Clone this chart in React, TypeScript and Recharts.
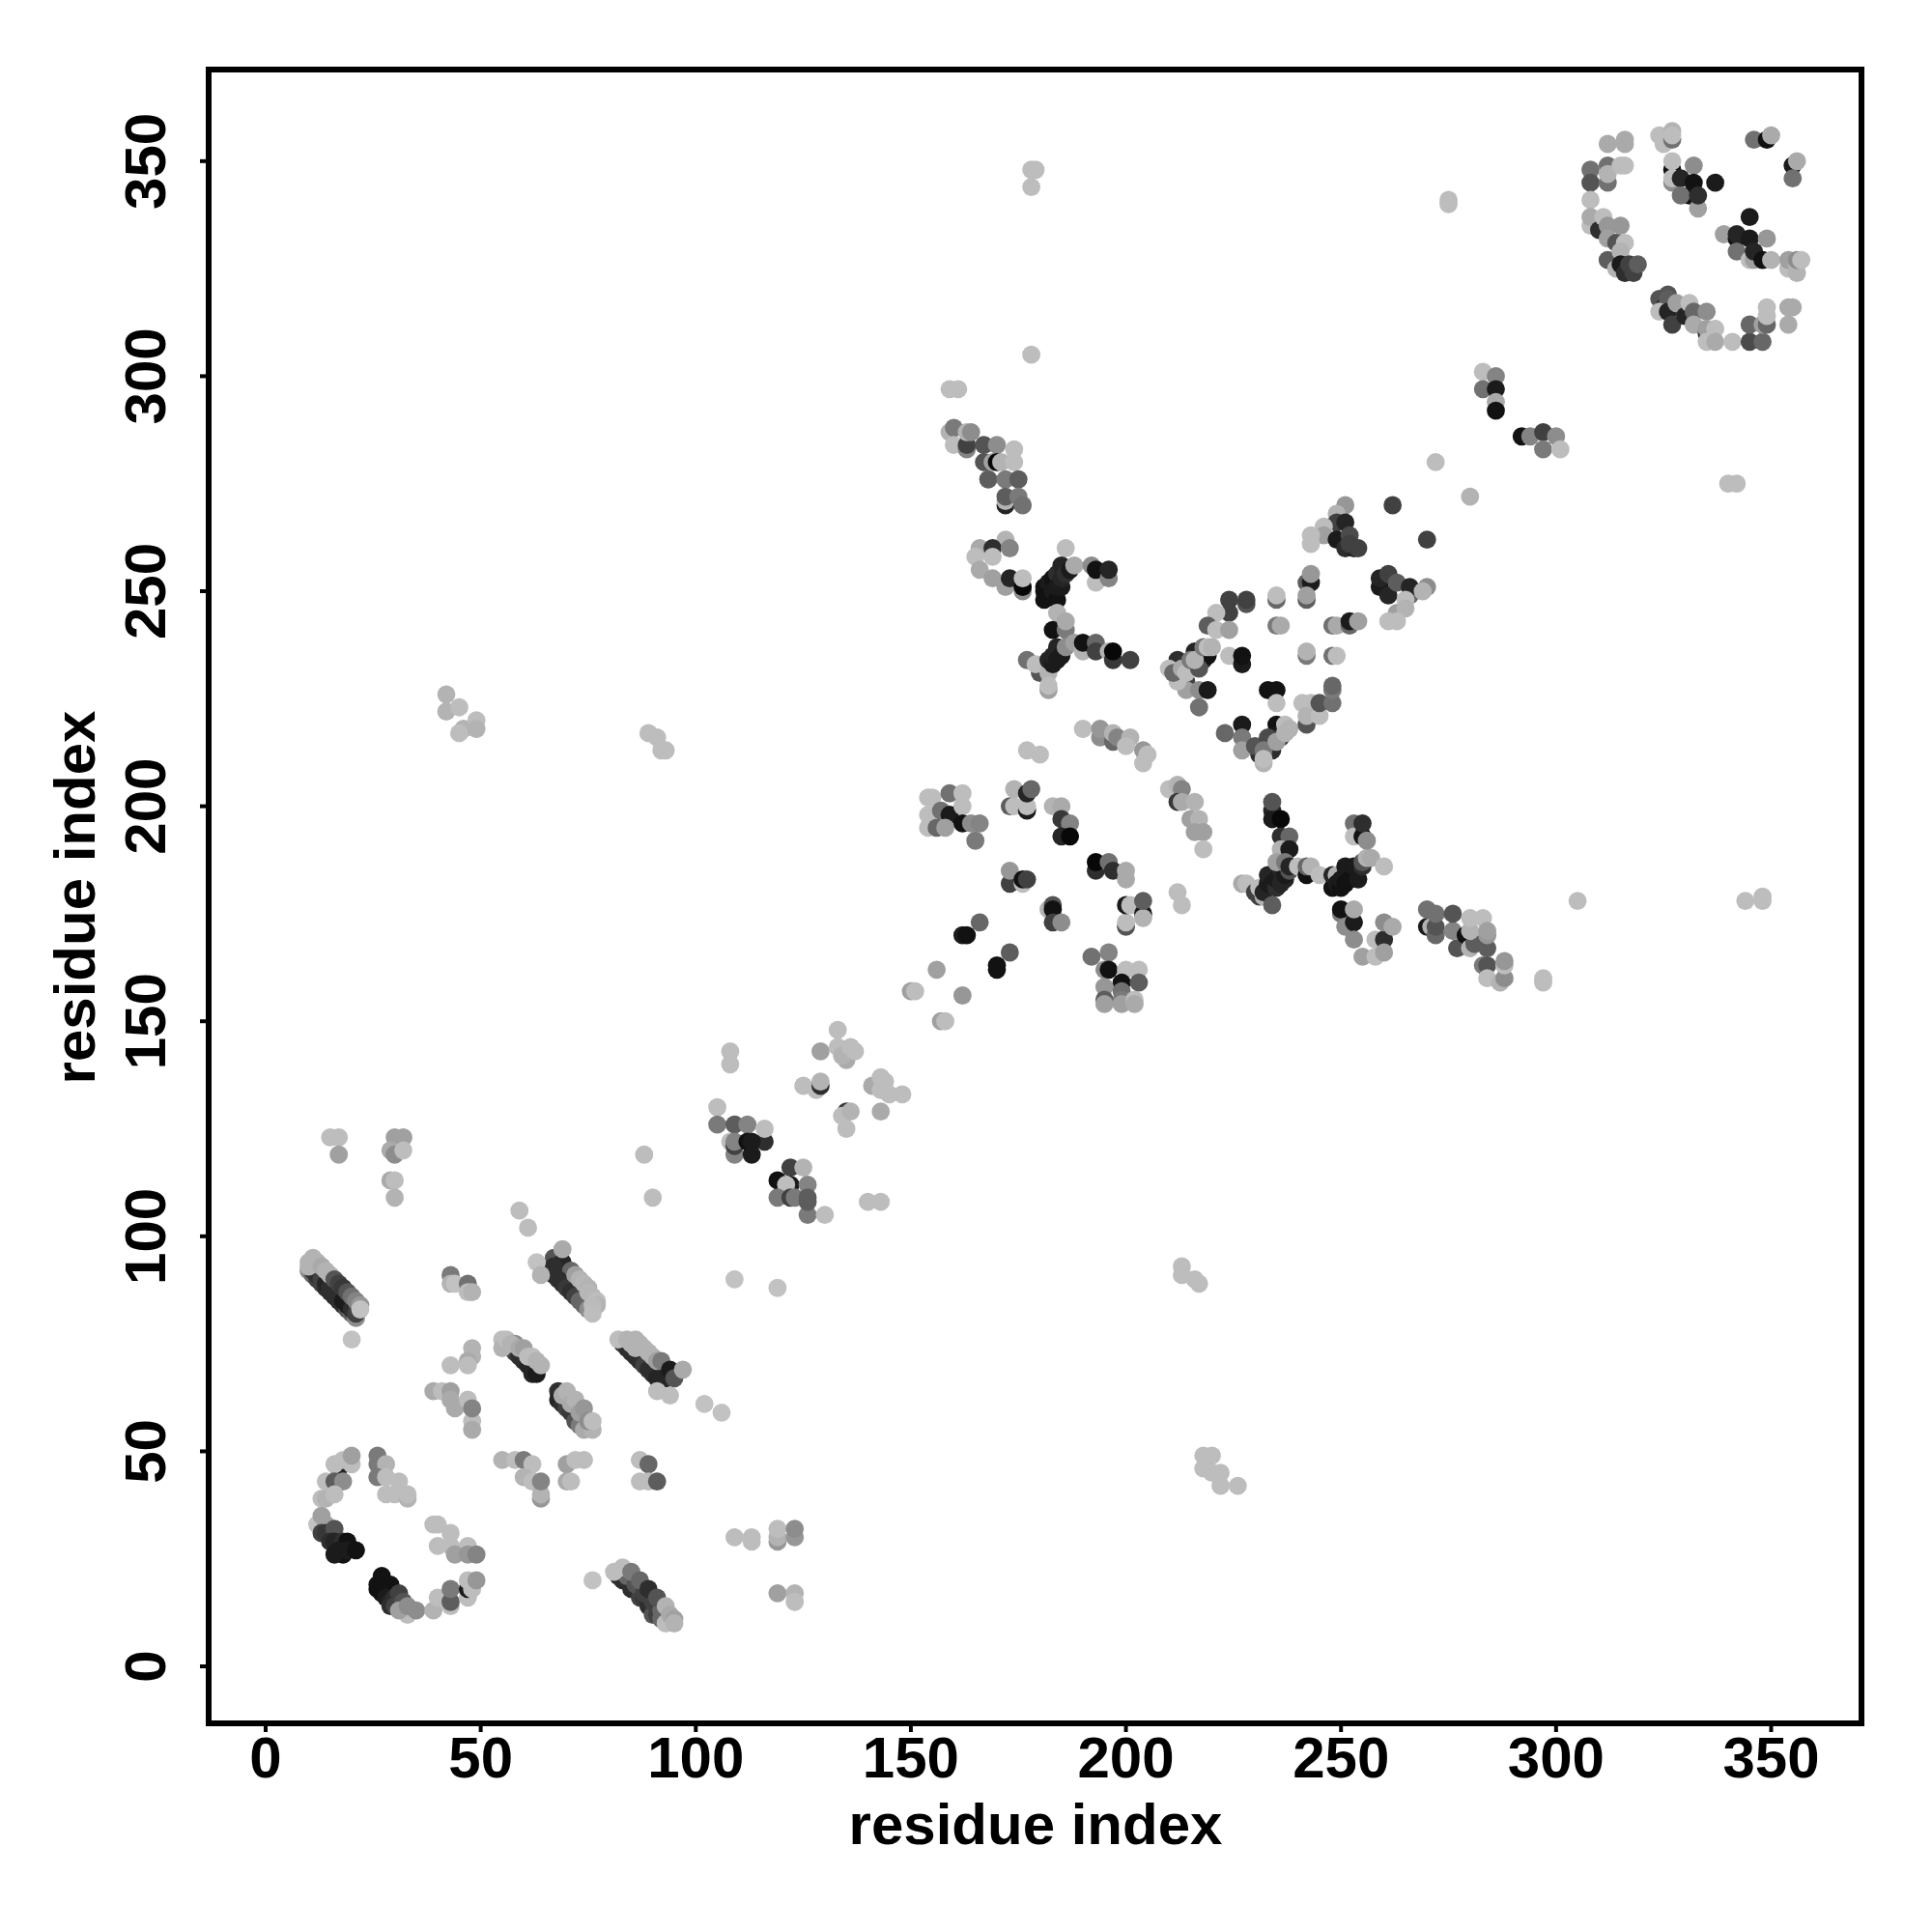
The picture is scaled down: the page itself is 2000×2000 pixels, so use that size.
import React from "react";
import { ScatterChart, Scatter, XAxis, YAxis, ReferenceArea } from "recharts";

// each row: residue index, residue index, contact score (0 weak .. 1 strong)
type Row = [number, number, number];

const TICKS = [0, 50, 100, 150, 200, 250, 300, 350];
const AXIS_TITLE = "residue index";
const FONT = '"Liberation Sans", Arial, sans-serif';

const helixA: Row[] = [
  [10,92,.3],[11,91,.5],[12,90,.7],[13,89,.7],[14,88,.8],[15,87,.8],[16,86,.8],[17,85,.8],[18,84,.8],[19,83,.6],[20,82,.5],[21,81,.3],
  [11,92,.8],[12,91,.8],[13,90,.7],[14,89,.85],[15,88,.8],[16,87,.8],[17,86,.8],[18,85,.9],[19,84,.9],[20,83,.8],[21,82,.7],
  [10,93,.1],[10,94,.1],[11,95,.1],[12,94,.1],[13,93,.15],[14,92,.1],[15,91,.1],[16,90,.6],[17,89,.7],[18,88,.75],[19,87,.6],[20,86,.45],[21,85,.35],[22,84,.25],[22,83,.02],
  [20,76,.02],[43,91,.4],[43,89,.1],[44,89,.02],[47,89,.45],[47,87,.05],[48,87,.1],
];
const helixB: Row[] = [
  [67,95,.6],[69,94,.85],[67,93,.8],[71,92,.5],[67,91,.8],[68,90,.8],[69,89,.8],[70,88,.75],[71,87,.8],[72,86,.7],[73,85,.5],[74,84,.5],[75,83,.3],
  [72,91,.2],[73,90,.1],[74,89,.08],[75,88,.1],[75,87,.08],[76,86,.08],[77,85,.05],[77,84,.1],[76,84,.06],[76,82,.05],
  [69,97,.15],[63,94,.02],[64,91,.1],
  [48,74,.1],[48,72,.1],[47,71,.15],[43,70,.05],[47,70,.05],
  [39,64,.15],[41,64,.05],[43,64,.2],[43,62,.15],[44,60,.15],[47,62,.05],[48,57,.05],[48,55,.15],[48,60,.35],
];
const helixC: Row[] = [
  [57,74,.6],[58,73,.7],[59,72,.8],[60,71,.8],[61,70,.85],[62,69,.85],[62,68,.85],[63,68,.9],
  [55,76,.05],[55,74,.1],[56,76,.05],[58,75,.3],[57,75,.1],[59,74,.15],[60,74,.2],[61,72,.05],[62,72,.05],[63,71,.1],[64,70,.1],
  [68,64,.8],[68,62,.85],[69,61,.8],[70,60,.7],[71,59,.75],[72,57,.6],[73,56,.4],[74,55,.15],[76,55,.1],[69,63,.15],[70,64,.1],[71,61,.15],[72,62,.1],[73,59,.2],[74,60,.25],[75,57,.3],[76,57,.05],
];
const helixD: Row[] = [
  [83,75,.7],[84,74,.8],[85,73,.8],[86,72,.8],[87,71,.8],[88,70,.7],[89,69,.8],[90,68,.8],[91,67,.85],[93,67,.85],
  [82,76,.05],[84,76,.1],[86,76,.1],[85,75,.1],[87,75,.1],[86,74,.1],[88,74,.1],[89,73,.1],[90,72,.1],[91,71,.2],[92,71,.4],[94,69,.9],[95,67,.6],[97,69,.15],
  [91,64,.05],[94,63,.05],[102,61,.02],[106,59,.02],[109,90,.02],[119,88,.02],
];
const loopNorth: Row[] = [
  [17,46,.85],[20,47,.05],[18,48,.05],[16,47,.05],[20,49,.2],[14,43,.05],[16,43,.55],[18,43,.3],[13,39,.05],[14,39,.1],[16,40,.05],
  [26,49,.4],[26,47,.4],[28,47,.1],[26,44,.4],[28,44,.05],[31,43,.05],[28,40,.05],[30,40,.05],[33,39,.1],[33,40,.05],
  [12,33,.02],[13,35,.2],[14,33,.2],[13,31,.7],[14,31,.75],[16,32,.6],[15,29,.8],[16,29,.85],[17,28,.85],[18,29,.8],[19,29,.95],[18,26,.95],[16,26,.9],[17,27,.9],[19,27,.9],[21,27,.95],
];
const loopSouth: Row[] = [
  [26,18,.95],[26,19,.95],[27,17,.95],[27,21,.95],[29,19,.95],[28,16,.9],[29,15,.85],[30,16,.8],[31,17,.7],[29,14,.8],[30,14,.7],[32,15,.6],[33,12,.05],[31,13,.2],[33,14,.3],[35,13,.3],
  [39,13,.1],[40,16,.05],[43,14,.05],[43,15,.55],[43,18,.4],[47,16,.05],[47,18,.9],[47,20,.05],[48,18,.05],[49,20,.25],
  [39,33,.05],[40,33,.05],[43,31,.05],[40,28,.05],[43,28,.05],[47,28,.05],[44,26,.2],[47,26,.25],[49,26,.35],
];
const helixE: Row[] = [
  [82,21,.8],[83,20,.8],[84,20,.8],[85,18,.8],[86,18,.8],[87,16,.7],[88,16,.75],[89,14,.8],[90,14,.8],[90,12,.6],[91,12,.7],[92,11,.5],
  [84,21,.5],[86,19,.6],[88,17,.7],[90,15,.7],[92,13,.5],
  [81,22,.05],[83,23,.05],[85,22,.4],[87,20,.5],[89,18,.8],[91,16,.6],
  [93,10,.05],[93,14,.1],[94,12,.15],[95,11,.2],[95,10,.1],[76,20,.02],
  [109,30,.05],[113,30,.05],[113,29,.05],[119,29,.25],[119,30,.1],[119,32,.05],[123,30,.25],[123,32,.3],[119,17,.2],[123,17,.1],[123,15,.05],
];
const strandPairs: Row[] = [
  [55,48,.1],[58,48,.05],[60,48,.4],[62,47,.05],[60,44,.1],[62,43,.05],[64,39,.25],[64,40,.1],[64,43,.35],
  [70,47,.2],[72,48,.05],[74,48,.05],[70,43,.15],[71,43,.05],[87,48,.05],[89,47,.5],[87,43,.05],[89,43,.05],[91,43,.55],
];
const upperLeft: Row[] = [
  [15,123,.05],[17,123,.05],[17,119,.2],[30,123,.2],[32,123,.2],[29,120,.15],[30,119,.3],[32,120,.05],
  [29,113,.15],[30,113,.05],[30,109,.1],[59,106,.05],[61,102,.05],[88,119,.05],[90,109,.05],
  [42,226,.1],[42,222,.1],[45,223,.05],[46,218,.1],[45,217,.05],[49,220,.05],[49,218,.1],
  [89,217,.05],[91,216,.05],[92,213,.05],[93,213,.05],
];
const midDiagonal: Row[] = [
  [108,143,.05],[108,140,.05],[105,130,.05],[105,126,.4],[109,126,.55],[112,126,.35],[116,122,.8],[116,125,.05],
  [108,122,.05],[109,119,.35],[109,121,.7],[109,122,.35],[112,122,.95],[113,122,.9],[113,119,.9],
  [122,116,.7],[125,116,.1],[119,113,.95],[122,112,.9],[121,112,.05],[126,112,.35],[119,109,.4],[122,109,.7],[123,109,.4],[126,105,.4],[126,108,.55],[126,109,.55],[130,105,.05],
  [140,108,.05],[143,108,.05],[129,143,.2],[133,148,.05],[135,141,.15],[133,144,.05],[134,142,.1],[136,144,.05],[137,143,.05],
  [125,135,.05],[128,134,.05],[129,135,.8],[129,136,.1],[135,129,.75],[134,128,.05],[136,129,.1],[135,125,.05],
  [141,135,.15],[143,137,.05],[144,136,.05],[143,134,.05],[145,133,.05],[148,133,.05],[143,129,.15],
  [150,157,.2],[151,157,.05],[156,162,.2],[162,156,.25],[157,150,.2],[158,150,.05],[170,162,.95],[170,163,.95],[173,166,.55],[166,173,.5],[162,170,.9],[163,170,.95],
];
const blockF: Row[] = [
  [154,202,.05],[154,198,.05],[154,195,.05],[155,202,.05],[159,203,.45],[157,199,.45],[159,198,.9],[162,200,.05],[162,203,.05],
  [156,195,.5],[158,195,.2],[162,196,.95],[164,196,.3],[166,196,.35],[165,192,.4],
  [173,200,.55],[174,200,.05],[177,199,.9],[177,200,.05],[174,204,.1],[177,203,.85],[178,204,.5],
  [183,200,.1],[185,200,.15],[185,197,.75],[187,196,.35],[185,193,.85],[187,193,1],
  [193,185,.8],[193,187,1],[196,187,.45],[197,185,.8],[200,183,.15],[200,185,.15],
  [173,182,.7],[173,185,.25],[176,182,.05],[176,183,.95],[177,183,.7],
  [182,176,.1],[183,177,.6],[183,176,.95],[183,173,.7],[185,173,.3],
  [200,172,.6],[200,173,.05],[200,177,.9],[201,177,.05],[204,175,.9],[204,174,.1],[204,178,.55],
];
const blockG: Row[] = [
  [192,165,.45],[196,166,.35],[195,162,.3],[196,162,.95],[200,162,.05],[203,162,.05],[199,159,.95],[203,159,.55],
  [195,158,.25],[195,155,.55],[195,154,.2],[199,157,.45],[199,155,.4],[199,154,.2],[202,155,.05],[202,154,.15],
  [210,204,.05],[212,205,.1],[213,204,.35],[212,201,.75],[213,201,.15],[216,201,.1],[215,197,.2],[217,197,.1],[216,194,.2],[218,194,.2],[218,190,.05],
  [212,180,.05],[213,177,.05],[213,93,.05],[213,91,.05],[216,90,.05],[217,89,.05],
  [218,46,.05],[218,49,.05],[220,49,.05],[220,45,.05],[222,45,.05],[222,42,.05],[226,42,.05],
];
const crossLow: Row[] = [
  [234,199,.85],[234,197,.9],[234,201,.6],[236,197,1],[236,193,.8],[238,193,.5],[236,190,.1],[238,190,.9],
  [227,182,.15],[228,182,.05],[230,180,.7],[231,179,.7],[232,179,.1],[231,181,.05],[232,180,.85],[233,181,.85],[233,182,.9],[233,184,.85],[234,182,.9],[235,181,.8],[235,183,.9],[236,182,.85],[236,185,.85],[237,183,.85],[237,184,.9],[238,185,.6],
  [234,177,.55],[235,187,.2],[237,187,.4],[238,186,.85],[240,186,.05],[242,184,.95],[242,186,.5],[243,186,.1],[245,184,.05],
  [248,181,.95],[248,184,.85],[249,184,.1],[249,182,.9],[250,181,.95],[250,183,.9],[251,182,.95],[251,186,.9],[252,183,.95],[253,186,.9],[254,183,.9],[255,186,.8],[255,187,.6],[256,188,.1],[257,188,.15],[260,186,.05],
  [253,196,.45],[253,193,.05],[255,193,.95],[255,196,.8],[256,192,.3],
  [250,175,.4],[250,176,.95],[251,172,.3],[253,173,.9],[253,176,.15],[253,169,.3],
  [255,165,.2],[258,165,.05],[258,169,.05],[260,169,.8],[260,166,.2],[260,173,.3],[262,172,.15],
];
const tailRight: Row[] = [
  [270,172,.9],[271,172,.1],[272,170,.5],[272,172,.6],[270,176,.45],[272,175,.45],[276,171,.35],[277,167,.6],[276,175,.6],
  [279,170,.95],[280,167,.1],[281,168,.55],[280,171,.1],[280,174,.05],[283,174,.05],[284,167,.55],[284,170,.25],[284,171,.2],
  [283,163,.4],[284,163,.6],[284,160,.05],[287,159,.1],[288,160,.3],[288,163,.05],[288,164,.25],
  [297,160,.05],[297,159,.05],[305,178,.05],[344,178,.05],[348,179,.05],[348,178,.05],
];
const crossHighLeft: Row[] = [
  [159,287,.1],[160,288,.4],[160,284,.05],[163,283,.35],[163,284,.7],[163,287,.1],[164,287,.3],[167,284,.6],[170,284,.3],
  [167,280,.6],[168,276,.55],[169,280,.2],[170,280,1],[171,280,.1],[174,283,.05],[174,280,.05],[172,276,.4],[175,276,.55],
  [172,270,.85],[172,271,.1],[172,272,.55],[175,272,.4],[176,270,.45],
  [172,262,.1],[166,260,.15],[169,260,.8],[173,260,.35],[165,258,.05],[169,258,.05],[166,255,.15],
  [169,253,.2],[172,251,.2],[173,253,.85],[176,250,.3],[176,251,1],[176,253,.05],
  [159,297,.05],[161,297,.05],[178,348,.05],[179,348,.05],[178,344,.05],[178,305,.05],
];
const crossHighRight: Row[] = [
  [186,260,.05],[181,250,.95],[181,251,.95],[181,248,.95],[182,252,.9],[182,249,.95],[183,253,.95],[183,250,.9],[184,248,.95],[184,254,.8],[184,251,.9],[185,251,.9],[185,253,.85],[185,256,.85],[186,254,.8],[187,255,.9],[188,256,.15],
  [192,256,.3],[193,252,.05],[193,255,.95],[196,253,.35],[196,255,.85],[184,245,.1],[183,241,.95],[186,241,.4],[186,243,.15],
  [177,234,.45],[180,231,.6],[179,233,.05],[182,231,.1],[182,234,.85],[183,233,.9],[183,235,.85],[184,237,.85],[184,234,.9],[185,235,.9],[182,227,.2],[182,228,.05],
  [186,237,.3],[188,238,.2],[190,236,.1],[190,238,.95],[193,238,.5],[193,236,.7],[196,236,.1],[197,234,.75],[197,236,1],[201,234,.7],
  [190,218,.05],[194,216,.3],[194,218,.25],[197,215,.5],[197,217,.1],[198,216,.35],[201,216,.1],[200,214,.05],[204,213,.25],[205,212,.05],[204,210,.05],[177,213,.05],[180,212,.05],
];
const sheetH: Row[] = [
  [251,270,.25],[249,268,.1],[249,266,.7],[251,266,.85],[246,265,.05],[246,263,.2],[243,263,.05],[243,261,.05],[249,262,.9],[251,260,.8],[253,260,.85],[252,263,.65],[252,261,.7],[254,260,.7],
  [262,270,.7],[270,262,.7],[280,272,.1],[272,280,.05],
  [259,251,.9],[259,253,.85],[261,249,.85],[261,254,.7],[263,252,.55],[266,249,.5],[266,251,.85],[270,251,.3],[269,250,.1],[263,245,.2],[265,248,.05],[265,246,.1],[261,243,.05],[263,243,.05],
  [242,252,.55],[243,252,.9],[243,254,.25],[242,248,.55],[242,249,.2],[235,248,.5],[235,249,.05],[235,242,.4],[236,242,.15],
  [248,242,.45],[249,242,.15],[252,242,.5],[252,243,.9],[254,243,.2],[242,235,.4],[242,236,.1],[248,235,.45],[249,235,.05],
];
const sheetI: Row[] = [
  [224,248,.7],[228,247,.6],[228,248,.7],[224,245,.7],[221,245,.05],[219,242,.55],[221,241,.05],[224,241,.2],
  [224,235,.05],[227,233,.9],[227,235,.95],[214,229,.7],[214,227,.2],[212,234,.8],[214,233,.75],[216,236,.85],[218,234,.8],[219,235,.95],
  [212,229,.05],[210,232,.05],[211,231,.5],[213,232,.15],[214,231,.05],[215,234,.4],[217,232,.6],[216,234,.1],[218,237,.4],[219,237,.05],[220,237,.1],
  [217,227,.3],[219,227,.9],[217,223,.45],[233,227,.95],[235,227,.95],[235,224,.05],
  [227,219,.9],[223,217,.5],[227,216,.4],[227,213,.2],
  [231,212,.8],[234,213,.8],[235,219,.95],[236,217,.9],[236,216,.75],[233,215,.8],[230,214,.6],[233,216,.65],[232,213,.4],
  [232,210,.1],[232,211,.05],[235,215,.2],[237,219,.05],[238,218,.1],[237,217,.1],
  [242,219,.6],[241,224,.05],[243,224,.05],[242,221,.1],[245,221,.05],[245,224,.6],[248,224,.45],[248,227,.4],[248,228,.5],
];
const sheetJ: Row[] = [
  [283,301,.05],[286,300,.35],[283,297,.45],[286,297,.9],[286,294,.15],[286,292,.95],
  [292,286,.95],[294,286,.35],[297,287,.7],[297,283,.4],[300,286,.3],[301,283,.05],
  [275,341,.05],[275,340,.05],[340,275,.05],[342,275,.05],
];
const domainTopLeft: Row[] = [
  [312,354,.15],[316,354,.15],[316,355,.15],[308,348,.45],[308,345,.6],[312,349,.45],[312,345,.45],[312,347,.1],[315,349,.05],[316,349,.05],
  [308,341,.05],[308,335,.05],[308,337,.15],[310,334,.8],[311,337,.05],[312,335,.25],[312,332,.2],[315,335,.25],[314,331,.6],[316,331,.05],
  [312,327,.55],[315,329,.1],[314,325,.1],[315,326,.9],[316,324,.8],[318,324,.7],[317,326,.7],[319,326,.55],
];
const domainCentre: Row[] = [
  [324,356,.05],[325,354,.05],[327,355,.45],[327,357,.1],[327,356,.05],[327,348,.95],[327,350,.05],[332,349,.3],[327,345,.3],[327,346,.05],
  [329,346,.85],[332,345,.95],[331,342,.95],[329,342,.45],[333,339,.2],[333,342,.8],[337,345,.9],
  [346,355,.45],[349,355,.95],[350,356,.15],[355,349,.9],[356,350,.15],[355,346,.45],
  [345,337,.9],[339,333,.2],[342,332,.95],[342,333,.85],[345,332,.9],[349,332,.25],[342,329,.45],[345,327,.05],[346,327,.2],[346,329,.85],[348,327,.95],[350,327,.1],
  [354,325,.05],[354,327,.2],[356,324,.1],[356,326,.1],[356,327,.3],[357,327,.05],
];
const domainArc: Row[] = [
  [324,318,.6],[325,316,.8],[326,319,.6],[326,318,.55],[324,315,.05],[326,315,.85],[328,317,.2],[327,312,.7],
  [330,314,.85],[331,317,.05],[332,315,.5],[332,312,.15],[335,315,.3],[335,310,.85],[335,311,.2],[337,311,.05],[335,308,.05],[337,308,.15],[341,308,.05],
  [345,308,.65],[345,312,.5],[348,308,.5],[348,312,.2],[349,312,.5],[349,314,.05],[349,316,.05],[354,312,.15],[354,316,.15],[355,316,.15],
];

const allRows: Row[] = [
  ...helixA, ...helixB, ...helixC, ...helixD, ...loopNorth, ...loopSouth, ...helixE, ...strandPairs, ...upperLeft,
  ...midDiagonal, ...blockF, ...blockG, ...crossLow, ...tailRight, ...crossHighLeft, ...crossHighRight,
  ...sheetH, ...sheetI, ...sheetJ, ...domainTopLeft, ...domainCentre, ...domainArc,
];
const points = allRows.map(([x, y, score]) => ({ x, y, score }));

const shade = (score: number) => {
  const g = Math.round(198 - 190 * score);
  return `rgb(${g},${g},${g})`;
};

const Dot = (props: any) => (
  <circle cx={props.cx} cy={props.cy} r={9.4} fill={shade(props.payload?.score ?? props.score)} />
);

const YTick = ({ y, payload }: any) => (
  <text
    x={171}
    y={y}
    transform={`rotate(-90 171 ${y})`}
    textAnchor="middle"
    fontFamily={FONT}
    fontWeight="bold"
    fontSize={60}
    fill="#000"
  >
    {payload.value}
  </text>
);

const XTick = ({ x, payload }: any) => (
  <text x={x} y={1840} textAnchor="middle" fontFamily={FONT} fontWeight="bold" fontSize={60} fill="#000">
    {payload.value}
  </text>
);

export default function App() {
  return (
    <div style={{ position: "absolute", left: 0, top: 0, width: 2000, height: 2000, background: "#fff" }}>
      <ScatterChart width={2000} height={2000} margin={{ top: 72, right: 73, bottom: 16, left: 16 }}>
        <XAxis
          type="number"
          dataKey="x"
          domain={[-13.25, 371]}
          ticks={TICKS}
          interval={0}
          height={200}
          axisLine={false}
          tickSize={9}
          tickLine={{ stroke: "#000", strokeWidth: 4 }}
          tick={<XTick />}
          allowDataOverflow
        />
        <YAxis
          type="number"
          dataKey="y"
          domain={[-13.25, 371.3]}
          ticks={TICKS}
          interval={0}
          width={200}
          axisLine={false}
          tickSize={9}
          tickLine={{ stroke: "#000", strokeWidth: 4 }}
          tick={<YTick />}
          allowDataOverflow
        />
        <Scatter data={points} shape={<Dot />} isAnimationActive={false} />
        <ReferenceArea
          x1={-13.25}
          x2={371}
          y1={-13.25}
          y2={371.3}
          ifOverflow="visible"
          fill="none"
          stroke="#000"
          strokeWidth={6}
        />
        <text x={1072} y={1909} textAnchor="middle" fontFamily={FONT} fontWeight="bold" fontSize={60} fill="#000">
          {AXIS_TITLE}
        </text>
        <text
          x={98}
          y={929}
          transform="rotate(-90 98 929)"
          textAnchor="middle"
          fontFamily={FONT}
          fontWeight="bold"
          fontSize={60}
          fill="#000"
        >
          {AXIS_TITLE}
        </text>
      </ScatterChart>
    </div>
  );
}
